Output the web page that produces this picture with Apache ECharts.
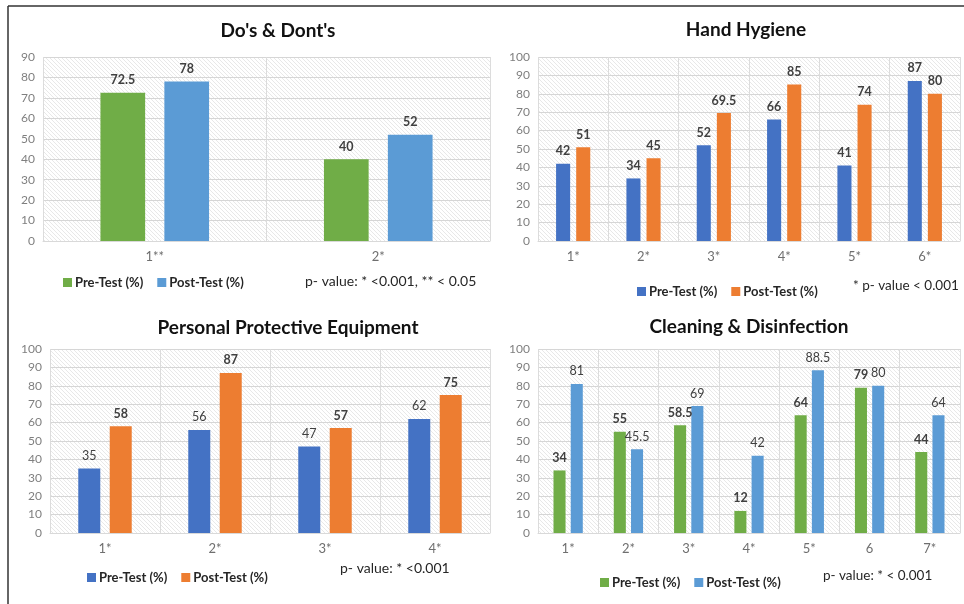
<!DOCTYPE html>
<html>
<head>
<meta charset="utf-8">
<script src="https://cdn.jsdelivr.net/npm/echarts@6/dist/echarts.min.js"></script>
<style>
  html, body { margin: 0; padding: 0; background: #fff; }
  #chart { width: 964px; height: 604px; }
</style>
</head>
<body>
<div id="chart"></div>
<script>
// Do's & Dont's
const doCats = ['1**', '2*'];
const doPre = [72.5, 40];
const doPost = [78, 52];

// Hand Hygiene
const hhCats = ['1*', '2*', '3*', '4*', '5*', '6*'];
const hhPre = [42, 34, 52, 66, 41, 87];
const hhPost = [51, 45, 69.5, 85, 74, 80];

// Personal Protective Equipment
const ppeCats = ['1*', '2*', '3*', '4*'];
const ppePre = [35, 56, 47, 62];
const ppePost = [58, 87, 57, 75];

// Cleaning & Disinfection
const cdCats = ['1*', '2*', '3*', '4*', '5*', '6', '7*'];
const cdPre = [34, 55, 58.5, 12, 64, 79, 44];
const cdPost = [81, 45.5, 69, 42, 88.5, 80, 64];

const PRE = 'Pre-Test (%)';
const POST = 'Post-Test (%)';

const GREEN = '#70ad47';
const LIGHTBLUE = '#5b9bd5';
const BLUE = '#4472c4';
const ORANGE = '#ed7d31';

const FONT = 'Lato, "Open Sans", sans-serif';

// faint diagonal hatch used behind every plot area
function hatch() {
  const c = document.createElement('canvas');
  c.width = 4; c.height = 4;
  const g = c.getContext('2d');
  g.fillStyle = '#ffffff';
  g.fillRect(0, 0, 4, 4);
  g.strokeStyle = '#e8e8e8';
  g.lineWidth = 1;
  g.beginPath();
  g.moveTo(-1, -1); g.lineTo(5, 5);
  g.moveTo(-1, 3); g.lineTo(1, 5);
  g.moveTo(3, -1); g.lineTo(5, 1);
  g.stroke();
  return c;
}
const pattern = { image: hatch(), repeat: 'repeat' };

const grids = [
  { left: 43, right: 474, top: 57, height: 184 },
  { left: 538, right: 4, top: 57, height: 184 },
  { left: 50, right: 474, top: 349, height: 184 },
  { left: 538, right: 4, top: 349, height: 184 }
].map(g => Object.assign({ show: true, backgroundColor: pattern, borderWidth: 0 }, g));

function xAxis(i, cats) {
  return {
    type: 'category', gridIndex: i, data: cats,
    axisLine: { show: true, lineStyle: { color: '#d9d9d9' } },
    axisTick: { show: false },
    splitLine: { show: true, lineStyle: { color: '#dcdcdc' } },
    axisLabel: { color: '#6f6f6f', fontSize: 13, fontFamily: FONT, margin: 9 }
  };
}
function yAxis(i, max) {
  return {
    type: 'value', gridIndex: i, min: 0, max: max, interval: 10,
    axisLine: { show: false }, axisTick: { show: false },
    splitLine: { show: true, lineStyle: { color: '#d6d6d6' } },
    axisLabel: { color: '#7f7f7f', fontSize: 12, fontFamily: FONT, margin: 8 }
  };
}
function bars(i, name, data, color, bold) {
  return {
    type: 'bar', name: name, xAxisIndex: i, yAxisIndex: i, data: data,
    barWidth: '20%', barGap: '43%',
    itemStyle: { color: color },
    label: {
      show: true, position: 'top', distance: 6,
      color: '#404040', fontSize: 12.5, fontFamily: FONT,
      fontWeight: bold ? 'bold' : 'normal'
    }
  };
}
function legend(left, top, gap, preColor, postColor) {
  return {
    left: left, top: top, orient: 'horizontal', selectedMode: false,
    itemWidth: 9, itemHeight: 9, itemGap: gap, icon: 'rect',
    textStyle: { color: '#262626', fontSize: 13, fontWeight: 'bold', fontFamily: FONT, padding: [0, 0, 0, -2] },
    data: [
      { name: PRE, itemStyle: { color: preColor } },
      { name: POST, itemStyle: { color: postColor } }
    ]
  };
}
function title(text, x, y) {
  return {
    text: text, left: x, top: y, textAlign: 'center',
    textStyle: { color: '#111', fontSize: 19, fontWeight: 'bold', fontFamily: FONT }
  };
}
function note(text, x, y, size) {
  return {
    type: 'text', left: x, top: y,
    style: { text: text, fill: '#262626', font: (size || 14) + 'px ' + FONT }
  };
}

const option = {
  animation: false,
  title: [
    title("Do's & Dont's", 273, 16),
    title('Hand Hygiene', 741, 15),
    title('Personal Protective Equipment', 283, 313),
    title('Cleaning & Disinfection', 744, 312)
  ],
  legend: [
    legend(58, 271, 14, GREEN, LIGHTBLUE),
    legend(632, 280, 14, BLUE, ORANGE),
    legend(82, 566, 14, BLUE, ORANGE),
    legend(595, 571, 14, GREEN, LIGHTBLUE)
  ],
  grid: grids,
  xAxis: [xAxis(0, doCats), xAxis(1, hhCats), xAxis(2, ppeCats), xAxis(3, cdCats)],
  yAxis: [yAxis(0, 90), yAxis(1, 100), yAxis(2, 100), yAxis(3, 100)],
  series: [
    bars(0, PRE, doPre, GREEN, true),
    bars(0, POST, doPost, LIGHTBLUE, true),
    bars(1, PRE, hhPre, BLUE, true),
    bars(1, POST, hhPost, ORANGE, true),
    bars(2, PRE, ppePre, BLUE, false),
    bars(2, POST, ppePost, ORANGE, true),
    bars(3, PRE, cdPre, GREEN, true),
    bars(3, POST, cdPost, LIGHTBLUE, false)
  ],
  graphic: [
    // outer frame: top and left rules
    { type: 'line', shape: { x1: 8, y1: 6, x2: 964, y2: 6 }, style: { stroke: '#333', lineWidth: 1.5 } },
    { type: 'line', shape: { x1: 8, y1: 6, x2: 8, y2: 604 }, style: { stroke: '#333', lineWidth: 1.5 } },
    note('p- value: * <0.001, ** < 0.05', 305, 274),
    note('* p- value < 0.001', 853, 279, 13.5),
    note('p- value: * <0.001', 340, 561),
    note('p- value: * < 0.001', 823, 569, 13.5)
  ]
};

const chart = echarts.init(document.getElementById('chart'), null, { renderer: 'canvas' });
chart.setOption(option);
</script>
</body>
</html>
